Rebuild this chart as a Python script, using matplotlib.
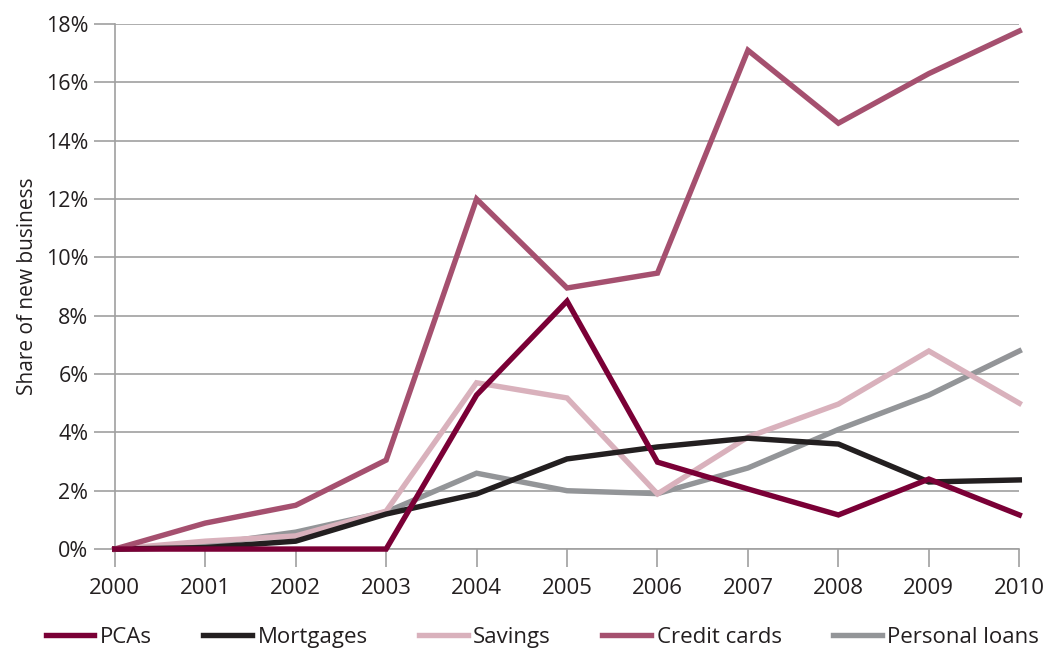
import matplotlib.pyplot as plt
from matplotlib.ticker import FuncFormatter

plt.rcParams['font.family'] = ['Open Sans', 'DejaVu Sans']

years = list(range(2000, 2011))

pcas = [0, 0, 0, 0, 5.28, 8.5, 2.98, 2.06, 1.17, 2.4, 1.17]
mortgages = [0, 0.05, 0.27, 1.2, 1.89, 3.09, 3.5, 3.8, 3.6, 2.3, 2.37]
savings = [0, 0.27, 0.45, 1.3, 5.7, 5.18, 1.89, 3.84, 4.97, 6.79, 5.0]
credit_cards = [0, 0.89, 1.5, 3.05, 12.0, 8.95, 9.46, 17.1, 14.6, 16.3, 17.76]
personal_loans = [0, 0.15, 0.58, 1.27, 2.6, 2.0, 1.9, 2.78, 4.1, 5.28, 6.79]

series = [
    ('PCAs', pcas, '#7a0036'),
    ('Mortgages', mortgages, '#231f20'),
    ('Savings', savings, '#d9b1bc'),
    ('Credit cards', credit_cards, '#a5506f'),
    ('Personal loans', personal_loans, '#939598'),
]
# draw order: back to front
z = {'Personal loans': 3, 'Savings': 4, 'Mortgages': 5, 'Credit cards': 6, 'PCAs': 7}

fig = plt.figure(figsize=(10.53, 6.49), dpi=100)
ax = fig.add_axes([0.109, 0.154, 0.859, 0.809])

for name, vals, col in series:
    ax.plot(years, vals, color=col, lw=3.9, label=name, zorder=z[name],
            solid_joinstyle='miter', clip_on=False)

ax.set_xlim(2000, 2010)
ax.set_ylim(0, 18)
ax.set_xticks(years)
ax.set_yticks(range(0, 19, 2))
ax.yaxis.set_major_formatter(FuncFormatter(lambda v, p: f'{v:.0f}%'))
ax.grid(axis='y', color='#a0a0a0', lw=1.2, zorder=0)
ax.set_axisbelow(True)

for s in ['top', 'right']:
    ax.spines[s].set_visible(False)
for s in ['left', 'bottom']:
    ax.spines[s].set_color('#a0a0a0')
    ax.spines[s].set_linewidth(1.2)

ax.tick_params(axis='y', length=15, width=1.2, color='#a0a0a0',
               labelsize=15.5, labelcolor='#231f20', pad=4)
ax.tick_params(axis='x', length=13, width=1.2, color='#a0a0a0',
               labelsize=16, labelcolor='#231f20', pad=8)

ax.set_ylabel('Share of new business', fontsize=15, color='#231f20', labelpad=6)

fig.legend(*ax.get_legend_handles_labels(), loc='center',
           bbox_to_anchor=(0.515, 0.018), ncol=5, frameon=False, fontsize=16,
           handlelength=2.2, handletextpad=0.25, columnspacing=2.3,
           labelcolor='#231f20', borderaxespad=0, borderpad=0)

fig.savefig('out.png', dpi=100)
